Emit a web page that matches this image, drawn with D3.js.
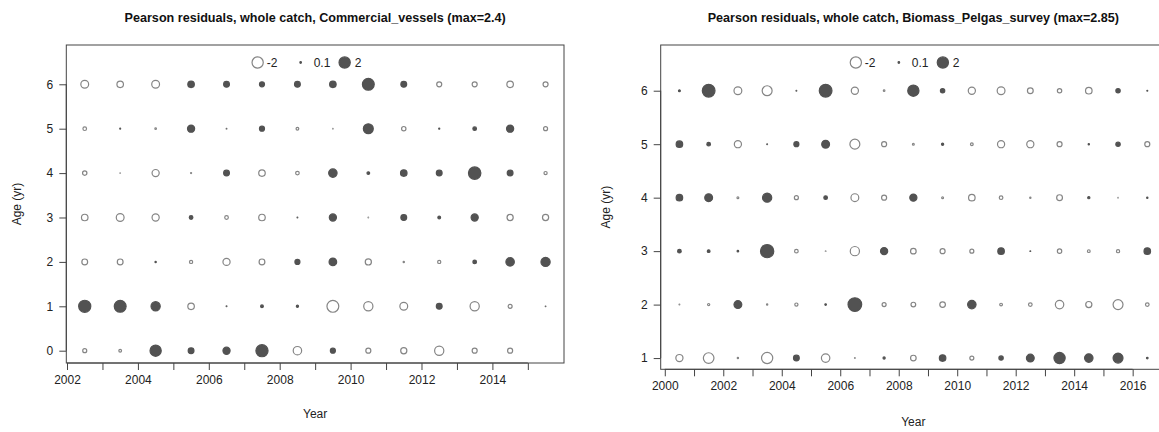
<!DOCTYPE html>
<html><head><meta charset="utf-8">
<script src="https://cdn.jsdelivr.net/npm/d3@7"></script>
<style>
html,body{margin:0;padding:0;background:#fff;}
svg{display:block;font-family:"Liberation Sans",Arial,sans-serif;}
</style></head>
<body><svg id="chart" width="1159" height="432"></svg>
<script>
// ---------- DATA ----------
const commTitle = "Pearson residuals, whole catch, Commercial_vessels (max=2.4)";
const commYears = [2002.5,2003.5,2004.5,2005.5,2006.5,2007.5,2008.5,2009.5,2010.5,2011.5,2012.5,2013.5,2014.5,2015.5];
const commAges = [0,1,2,3,4,5,6];
// rows by age (0..6), columns by year
const commResid = [
  [-0.35,-0.2, 2.0, 0.63, 0.9, 2.3,-1.2, 0.5,-0.5,-0.7,-1.4,-0.5,-0.5, null],
  [ 2.3, 2.2, 1.4,-0.77, 0.05, 0.2, 0.15,-2.2,-1.4,-1.05, 0.63,-1.4,-0.35, 0.04],
  [-0.63,-0.63, 0.08,-0.25,-0.9,-0.63, 0.5, 1.0,-0.7,-0.08,-0.25, 0.3, 1.2, 1.4],
  [-0.77,-1.05,-0.9, 0.3,-0.3,-0.77, 0.05, 0.9,-0.03, 0.63, 0.2, 0.9,-0.7,-0.7],
  [-0.4,-0.02,-0.9,-0.07, 0.63,-0.77,-0.3, 1.2, 0.2, 0.77, 0.63, 2.4, 0.63,-0.25],
  [-0.3, 0.06,-0.1, 0.9, 0.04, 0.5,-0.2,-0.02, 1.6,-0.4, 0.07, 0.3, 0.9,-0.35],
  [-1.05,-0.77,-1.05, 0.77, 0.63, 0.5, 0.63, 0.77, 2.2, 0.63,-0.5,-0.5,-0.77,-0.5]
];
const commXTicks = [2002,2003,2004,2005,2006,2007,2008,2009,2010,2011,2012,2013,2014,2015];

const pelTitle = "Pearson residuals, whole catch, Biomass_Pelgas_survey (max=2.85)";
const pelYears = [2000.5,2001.5,2002.5,2003.5,2004.5,2005.5,2006.5,2007.5,2008.5,2009.5,2010.5,2011.5,2012.5,2013.5,2014.5,2015.5,2016.5];
const pelAges = [1,2,3,4,5,6];
const pelResid = [
  [-0.9,-1.8,-0.08,-2.0, 0.63,-1.2,-0.05, 0.15,-0.6, 0.77,-0.35, 0.4, 1.05, 2.0, 1.2, 1.6, 0.1],
  [-0.05,-0.15, 1.05,-0.08,-0.25, 0.1, 2.85,-0.35,-0.45,-0.6, 1.2,-0.2,-0.3,-1.2,-0.7,-1.6,-0.3],
  [ 0.3, 0.2, 0.1, 2.7,-0.3,-0.02,-1.4, 0.9,-0.6,-0.5,-0.35, 0.77, 0.05,-0.4,-0.2,-0.25, 0.77],
  [ 0.77, 1.05,-0.12, 1.4,-0.35, 0.3,-1.05,-0.5, 0.9,-0.12,-0.77,-0.3,-0.08,-0.63, 0.15,-0.02, 0.08],
  [ 0.77, 0.3,-0.9, 0.05, 0.5, 1.05,-1.6,-0.5,-0.12, 0.15,-0.2,-0.9,-0.9,-0.5, 0.08, 0.4,-0.5],
  [ 0.12, 2.5,-1.05,-1.6, 0.05, 2.5,-0.9,-0.1, 2.0, 0.4,-0.9,-1.05,-0.63,-0.4,-0.77, 0.4, 0.06]
];
const pelXTicks = [2000,2001,2002,2003,2004,2005,2006,2007,2008,2009,2010,2011,2012,2013,2014,2015,2016];

const legendValues = [-2, 0.1, 2];
const legendLabels = ["-2", "0.1", "2"];

// ---------- DRAW ----------
const svg = d3.select("#chart");
const FILL = "#525252", OPEN = "#858585", AX = "#444";
const rScale = d3.scaleSqrt().domain([0, 1]).range([0, 4.4]);

function panel(cfg) {
  const x = d3.scaleLinear().domain(cfg.xDom).range([cfg.left, cfg.right]);
  const y = d3.scaleLinear().domain(cfg.yDom).range([cfg.bottom, cfg.top]);
  const g = svg.append("g");
  g.append("rect").attr("x", cfg.left).attr("y", cfg.top)
    .attr("width", cfg.right - cfg.left).attr("height", cfg.bottom - cfg.top)
    .attr("fill", "none").attr("stroke", AX).attr("stroke-width", 1);
  g.append("text").attr("x", (cfg.left + cfg.right) / 2).attr("y", 22)
    .attr("text-anchor", "middle").attr("font-size", 12.6).attr("font-weight", "bold")
    .attr("fill", "#111").text(cfg.title);
  const xAxis = d3.axisBottom(x).tickValues(cfg.xTicks).tickSize(7).tickPadding(5)
    .tickFormat(d => d % 2 === 0 ? d : "");
  const xa = g.append("g").attr("transform", `translate(0,${cfg.bottom})`).call(xAxis);
  xa.select(".domain").remove();
  xa.append("line").attr("x1", x(cfg.xTicks[0])).attr("x2", x(cfg.xTicks[cfg.xTicks.length-1]))
    .attr("stroke", AX);
  xa.selectAll(".tick line").attr("stroke", AX);
  xa.selectAll("text").attr("font-size", 12).attr("fill", "#222").attr("font-family", "Liberation Sans, Arial, sans-serif");
  const yAxis = d3.axisLeft(y).tickValues(cfg.ages).tickSize(7).tickPadding(6).tickFormat(d3.format("d"));
  const ya = g.append("g").attr("transform", `translate(${cfg.left},0)`).call(yAxis);
  ya.select(".domain").remove();
  ya.append("line").attr("y1", y(cfg.ages[0])).attr("y2", y(cfg.ages[cfg.ages.length-1])).attr("stroke", AX);
  ya.selectAll(".tick line").attr("stroke", AX);
  ya.selectAll("text").attr("font-size", 12).attr("fill", "#222").attr("font-family", "Liberation Sans, Arial, sans-serif");
  g.append("text").attr("x", (cfg.left + cfg.right) / 2).attr("y", cfg.bottom + cfg.yearDy)
    .attr("text-anchor", "middle").attr("font-size", 12).attr("fill", "#222").text("Year");
  g.append("text").attr("transform", `translate(${cfg.ylabX},${(cfg.top + cfg.bottom) / 2}) rotate(-90)`)
    .attr("text-anchor", "middle").attr("font-size", 12).attr("fill", "#222").text("Age (yr)");
  const pts = [];
  cfg.ages.forEach((a, i) => cfg.years.forEach((yr, j) => {
    const v = cfg.resid[i][j];
    if (v !== null && v !== undefined) pts.push({ yr, a, v });
  }));
  g.selectAll("circle.b").data(pts).enter().append("circle").attr("class", "b")
    .attr("cx", d => x(d.yr)).attr("cy", d => y(d.a))
    .attr("r", d => Math.max(0.3, rScale(Math.abs(d.v)) - 0.6))
    .attr("fill", d => d.v < 0 ? "#fff" : FILL)
    .attr("stroke", d => d.v < 0 ? OPEN : FILL).attr("stroke-width", 1.2);
  const cx = (cfg.left + cfg.right) / 2 - 57.5, ly = cfg.top + 17.5;
  const offs = [0, 43, 87];
  const tOffs = [9, 13, 10];
  legendValues.forEach((v, i) => {
    g.append("circle").attr("cx", cx + offs[i]).attr("cy", ly)
      .attr("r", Math.max(0.3, rScale(Math.abs(v)) - 0.6))
      .attr("fill", v < 0 ? "#fff" : FILL).attr("stroke", v < 0 ? OPEN : FILL).attr("stroke-width", 1.2);
    g.append("text").attr("x", cx + offs[i] + tOffs[i]).attr("y", ly + 4.3)
      .attr("font-size", 12).attr("fill", "#222").text(legendLabels[i]);
  });
}

panel({ title: commTitle, years: commYears, ages: commAges, resid: commResid, xTicks: commXTicks,
  xDom: [2001.98, 2016.02], yDom: [-0.277, 6.885], left: 66.3, right: 564, top: 45, bottom: 363, ylabX: 21, yearDy: 55 });
panel({ title: pelTitle, years: pelYears, ages: pelAges, resid: pelResid, xTicks: pelXTicks,
  xDom: [1999.86, 2017.14], yDom: [0.79, 6.855], left: 660.7, right: 1166, top: 45, bottom: 369.3, ylabX: 610, yearDy: 57 });
</script></body></html>
